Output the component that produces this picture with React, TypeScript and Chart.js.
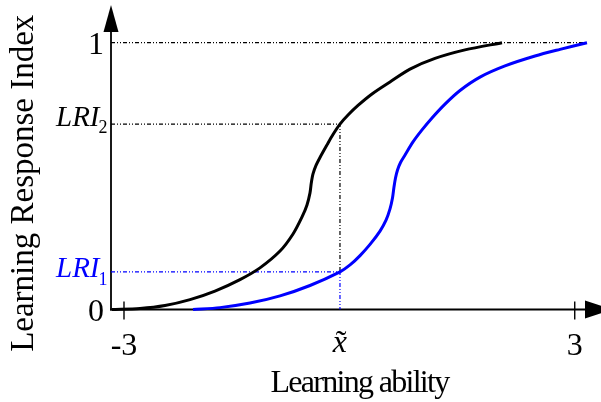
import React, { useEffect, useRef } from "react";
import { Chart, registerables } from "chart.js";

Chart.register(...registerables);

// ---- data ----
const blackX = [-3.16, -2.787, -2.454, -2.121, -1.789, -1.456, -1.19, -0.923, -0.75, -0.63, -0.564, -0.524, -0.507, -0.484, -0.444, -0.391, -0.298, -0.218, -0.125, -0.018, 0.115, 0.301, 0.541, 0.807, 1.14, 1.539, 2.032];
const blackY = [0, 0.004, 0.015, 0.037, 0.069, 0.112, 0.156, 0.219, 0.283, 0.347, 0.392, 0.437, 0.474, 0.508, 0.54, 0.57, 0.617, 0.656, 0.695, 0.729, 0.765, 0.808, 0.853, 0.901, 0.941, 0.973, 1];

const blueX = [-2.081, -1.722, -1.323, -0.923, -0.524, -0.125, 0.009, 0.142, 0.275, 0.408, 0.488, 0.541, 0.574, 0.594, 0.614, 0.641, 0.681, 0.741, 0.847, 0.967, 1.1, 1.273, 1.473, 1.739, 2.072, 2.471, 2.804, 3.163];
const blueY = [0, 0.007, 0.024, 0.051, 0.09, 0.141, 0.167, 0.202, 0.244, 0.294, 0.335, 0.377, 0.418, 0.459, 0.493, 0.523, 0.551, 0.579, 0.628, 0.673, 0.718, 0.77, 0.821, 0.871, 0.913, 0.95, 0.975, 1];

const xTilde = -0.125;
const LRI1 = 0.141;
const LRI2 = 0.695;
const topValue = 1;
const blueEndX = 3.163;

const xTickMarks = [-3, 3];
const xTickValues = [-3, xTilde, 3];
const xTickLabels = ["-3", "x", "3"];
const yTickValues = [0, topValue];
const yTickLabels = ["0", "1"];

const X_MIN = -3.173;
const X_MAX = 3.323;
const Y_MIN = 0;
const Y_MAX = 1.1413;

const SERIF = '"Liberation Serif", "Times New Roman", Times, serif';
const BLUE = "#0000ff";
const DASH = [4, 2, 1, 2, 1, 2];

const pts = (xs: number[], ys: number[]) => xs.map((x, i) => ({ x, y: ys[i] }));

const axesPlugin = {
  id: "axesPlugin",
  beforeDatasetsDraw(chart: any) {
    const { ctx, scales } = chart;
    const sx = scales.x;
    const sy = scales.y;
    const x0 = sx.getPixelForValue(X_MIN);
    const y0 = sy.getPixelForValue(0);
    const yTop = sy.getPixelForValue(Y_MAX);
    const xRight = sx.getPixelForValue(X_MAX);
    ctx.save();
    ctx.strokeStyle = "#000";
    ctx.fillStyle = "#000";
    ctx.lineWidth = 1.8;
    ctx.beginPath();
    ctx.moveTo(x0, y0 + 0.9);
    ctx.lineTo(x0, yTop + 20);
    ctx.stroke();
    ctx.beginPath();
    ctx.moveTo(x0 - 0.9, y0);
    ctx.lineTo(xRight - 10, y0);
    ctx.stroke();
    // arrows
    ctx.beginPath();
    ctx.moveTo(x0, yTop);
    ctx.lineTo(x0 - 7.5, yTop + 27);
    ctx.lineTo(x0 + 7.5, yTop + 27);
    ctx.closePath();
    ctx.fill();
    ctx.beginPath();
    ctx.moveTo(xRight + 13, y0);
    ctx.lineTo(xRight - 14, y0 - 9);
    ctx.lineTo(xRight - 14, y0 + 9);
    ctx.closePath();
    ctx.fill();
    // tick marks
    ctx.lineWidth = 1.4;
    xTickMarks.forEach((v) => {
      const px = sx.getPixelForValue(v);
      ctx.beginPath();
      ctx.moveTo(px, y0 - 8);
      ctx.lineTo(px, y0 + 10);
      ctx.stroke();
    });
    ctx.restore();
  },
  afterDraw(chart: any) {
    const { ctx, scales } = chart;
    const sx = scales.x;
    const sy = scales.y;
    const x0 = sx.getPixelForValue(X_MIN);
    const y0 = sy.getPixelForValue(0);
    ctx.save();
    ctx.fillStyle = "#000";
    ctx.textBaseline = "alphabetic";

    // y tick labels
    ctx.font = `32px ${SERIF}`;
    ctx.textAlign = "right";
    yTickValues.forEach((v, i) => {
      ctx.fillText(yTickLabels[i], x0 - 7, sy.getPixelForValue(v) + 11);
    });

    // LRI labels
    const drawLRI = (v: number, sub: string, color: string, dy: number, dsub: number) => {
      const py = sy.getPixelForValue(v);
      ctx.fillStyle = color;
      ctx.textAlign = "left";
      ctx.font = `italic 29px ${SERIF}`;
      ctx.fillText("LRI", x0 - 55, py + dy);
      ctx.font = `18px ${SERIF}`;
      ctx.fillText(sub, x0 - 12.5, py + dsub);
    };
    drawLRI(LRI2, "2", "#000", 1.5, 8.5);
    drawLRI(LRI1, "1", BLUE, 5, 13);

    // x tick labels
    ctx.fillStyle = "#000";
    ctx.textAlign = "center";
    xTickValues.forEach((v, i) => {
      const px = sx.getPixelForValue(v);
      if (v === xTilde) {
        ctx.font = `italic 32px ${SERIF}`;
        ctx.fillText(xTickLabels[i], px, y0 + 42.5);
        ctx.font = `32px ${SERIF}`;
        ctx.fillText("\u02DC", px + 1, y0 + 42.5);
      } else {
        ctx.font = `32px ${SERIF}`;
        ctx.fillText(xTickLabels[i], px, y0 + 45.5);
      }
    });

    // axis titles
    ctx.font = `32px ${SERIF}`;
    (ctx as any).letterSpacing = "-1.7px";
    ctx.textAlign = "center";
    ctx.fillText("Learning ability", (sx.getPixelForValue(xTilde) + sx.getPixelForValue(X_MIN)) / 2 + 134, y0 + 82.5);
    (ctx as any).letterSpacing = "0px";

    ctx.save();
    ctx.font = `33px ${SERIF}`;
    ctx.translate(x0 - 78, (sy.getPixelForValue(Y_MAX) + y0) / 2 + 26);
    ctx.rotate(-Math.PI / 2);
    ctx.textAlign = "center";
    ctx.fillText("Learning Response Index", 0, 0);
    ctx.restore();

    ctx.restore();
  },
};

export default function App() {
  const ref = useRef<HTMLCanvasElement | null>(null);
  useEffect(() => {
    if (!ref.current) return;
    const curve = (xs: number[], ys: number[], color: string) =>
      ({
        data: pts(xs, ys),
        showLine: true,
        borderColor: color,
        borderWidth: 3,
        pointRadius: 0,
        tension: 0.3,
        clip: false,
        order: 0,
      } as any);
    const guide = (data: { x: number; y: number }[], color: string) =>
      ({
        data,
        showLine: true,
        borderColor: color,
        borderWidth: 1.2,
        borderDash: DASH,
        pointRadius: 0,
        tension: 0,
        clip: false,
        order: 1,
      } as any);
    const chart = new Chart(ref.current, {
      type: "scatter",
      data: {
        datasets: [
          curve(blackX, blackY, "#000"),
          curve(blueX, blueY, BLUE),
          guide(
            [
              { x: X_MIN, y: topValue },
              { x: blueEndX, y: topValue },
            ],
            "#000"
          ),
          guide(
            [
              { x: X_MIN, y: LRI2 },
              { x: xTilde, y: LRI2 },
              { x: xTilde, y: LRI1 },
            ],
            "#000"
          ),
          guide(
            [
              { x: X_MIN, y: LRI1 },
              { x: xTilde, y: LRI1 },
              { x: xTilde, y: 0 },
            ],
            BLUE
          ),
        ],
      },
      options: {
        responsive: false,
        animation: false,
        events: [],
        layout: { padding: { left: 111, right: 2, top: 5, bottom: 92.5 } },
        plugins: { legend: { display: false }, tooltip: { enabled: false } },
        scales: {
          x: { type: "linear", min: X_MIN, max: X_MAX, display: false },
          y: { type: "linear", min: Y_MIN, max: Y_MAX, display: false },
        },
      },
      plugins: [axesPlugin],
    });
    return () => chart.destroy();
  }, []);
  return (
    <div style={{ position: "absolute", left: 0, top: 0, width: 601, height: 402, background: "#fff" }}>
      <canvas ref={ref} width={601} height={402} style={{ display: "block" }} />
    </div>
  );
}
